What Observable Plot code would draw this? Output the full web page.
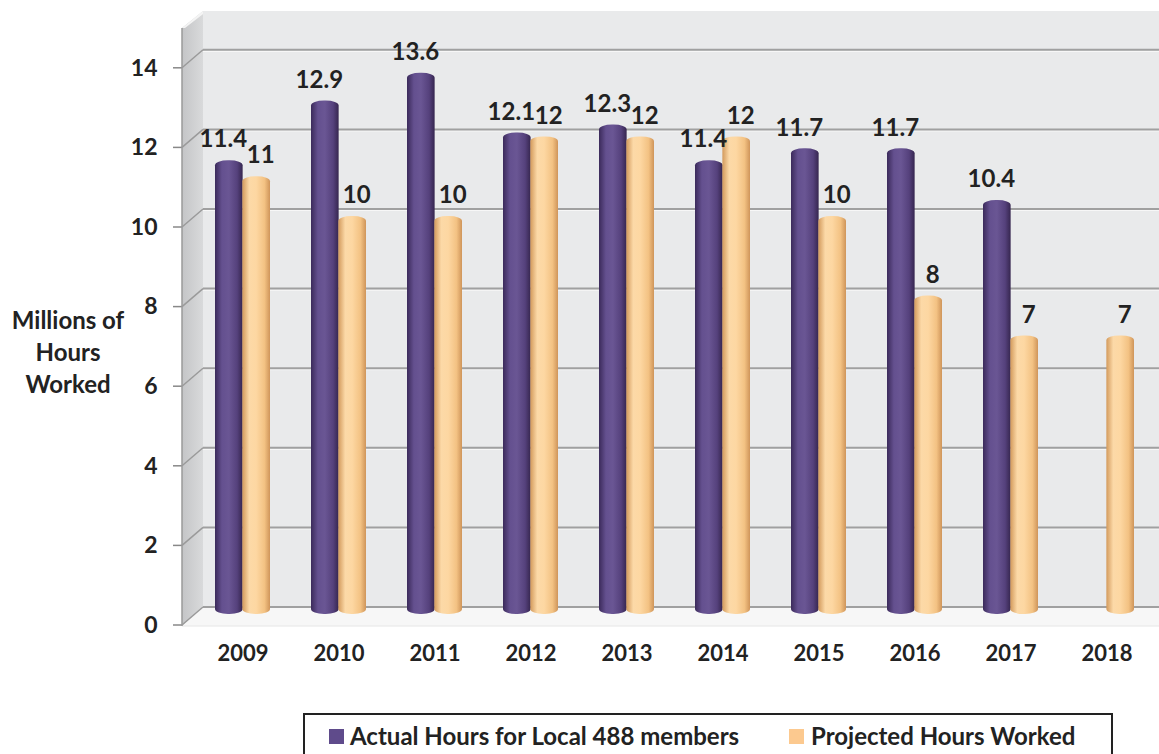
<!DOCTYPE html>
<html><head><meta charset="utf-8">
<script src="https://cdn.jsdelivr.net/npm/d3@7"></script>
<script src="https://cdn.jsdelivr.net/npm/@observablehq/plot@0.6"></script>
<style>
body{margin:0;background:#fff;font-family:Lato,"Open Sans",sans-serif;color:#222;}
#wrap{position:relative;width:1159px;height:754px;overflow:hidden;}
#ytitle{position:absolute;left:0;width:136px;top:304px;text-align:center;font-weight:700;font-size:24px;line-height:32px;color:#222;}
#legend{position:absolute;left:303px;top:713px;width:810px;height:70px;border:2px solid #222;box-sizing:border-box;}
.sw{position:absolute;top:14px;width:15px;height:15px;}
.lt{position:absolute;top:6px;font-weight:700;font-size:24px;line-height:30px;white-space:nowrap;}
</style></head>
<body><div id="wrap"><div id="chart"></div>
<div id="ytitle">Millions of<br>Hours<br>Worked</div>
<div id="legend"></div></div>
<script>
const years = ["2009","2010","2011","2012","2013","2014","2015","2016","2017","2018"];
const actual = [11.4,12.9,13.6,12.1,12.3,11.4,11.7,11.7,10.4,null];
const projected = [11,10,10,12,12,12,10,8,7,7];
const yTicks = [0,2,4,6,8,10,12,14];
const seriesNames = ["Actual Hours for Local 488 members","Projected Hours Worked"];
const seriesColors = ["#5f4b8b","#fcc98f"];

const actualData = years.map((year,i)=>({year, value: actual[i]})).filter(d=>d.value!=null);
const projData = years.map((year,i)=>({year, value: projected[i]})).filter(d=>d.value!=null);

const W = 1159, H = 680;
const halfBand = 96*(1-0.43)/2;

function decor(index, {x, y}, values, dims) {
  const g = d3.create("svg:g");
  const defs = g.append("defs");
  const mk = (id, stops) => {
    const lg = defs.append("linearGradient").attr("id", id).attr("x1",0).attr("x2",1).attr("y1",0).attr("y2",0);
    for (const [o,c] of stops) lg.append("stop").attr("offset",o).attr("stop-color",c);
  };
  mk("gp", [[0,"#3b2a5a"],[0.25,"#64508f"],[0.5,"#6a5694"],[0.8,"#55417c"],[1,"#36264f"]]);
  mk("gt", [[0,"#d39a5c"],[0.25,"#fcd9a7"],[0.5,"#fdd7a2"],[0.8,"#f3c283"],[1,"#cf955a"]]);
  mk("side", [[0,"#c4c5c7"],[1,"#d9dadb"]]);
  const L = 182, B = 203, R = dims.width;
  const back = -7, front = 11;
  const yTop = y(15) - 6;
  const yb = y(0) + back;
  const yf = y(0) + front + 1;
  g.append("polygon").attr("points", `${L},${yTop+17} ${B},${yTop} ${B},${yb} ${L},${yf}`).attr("fill","url(#side)");
  g.append("polygon").attr("points", `${L},${yTop+17} ${B},${yTop} ${B+4},${yTop} ${L+3},${yTop+17}`).attr("fill","#f4f4f4");
  g.append("rect").attr("x",B).attr("y",yTop).attr("width",R-B).attr("height",yb-yTop).attr("fill","#e9eaeb");
  g.append("polygon").attr("points", `${B},${yb} ${R},${yb} ${R},${yf} ${L},${yf}`).attr("fill","#f7f7f7");
  g.append("line").attr("x1",L).attr("x2",R).attr("y1",yf).attr("y2",yf).attr("stroke","#e6e6e6");
  for (const t of yTicks) {
    const yy = y(t);
    g.append("line").attr("x1",B).attr("x2",R).attr("y1",yy+back+1.5).attr("y2",yy+back+1.5).attr("stroke","#f7f7f7").attr("stroke-width",1.2);
    g.append("line").attr("x1",B).attr("x2",R).attr("y1",yy+back).attr("y2",yy+back).attr("stroke","#a0a0a0").attr("stroke-width",2);
    g.append("line").attr("x1",L).attr("x2",B).attr("y1",yy+front).attr("y2",yy+back).attr("stroke","#9a9a9a").attr("stroke-width",1.5);
    g.append("line").attr("x1",L-9).attr("x2",L).attr("y1",yy+front).attr("y2",yy+front).attr("stroke","#888").attr("stroke-width",1.5);
  }
  g.append("line").attr("x1",L).attr("x2",L).attr("y1",yTop+17).attr("y2",yf).attr("stroke","#9a9a9a").attr("stroke-width",1.5);
  return g.node();
}

const plot = Plot.plot({
  width: W, height: H,
  marginLeft: 194, marginRight: 5, marginTop: 17, marginBottom: 66,
  style: {fontFamily: "Lato, 'Open Sans', sans-serif", color: "#222", background: "transparent"},
  x: {domain: years, paddingInner: 0.43, paddingOuter: 0.215, label: null},
  y: {domain: [0, 15], label: null},
  marks: [
    decor,
    Plot.axisY({ticks: yTicks, tickSize: 0, tickPadding: 37, dy: 11, fontSize: 23, fontWeight: "bold", label: null}),
    Plot.axisX({tickSize: 0, tickPadding: 31, fontSize: 22, fontWeight: "bold", label: null}),
    Plot.barY(actualData, {x: "year", y: "value", fill: "url(#gp)", insetRight: halfBand, rx: 13, ry: 5}),
    Plot.barY(projData, {x: "year", y: "value", fill: "url(#gt)", insetLeft: halfBand, rx: 13, ry: 5}),
    Plot.text(actualData, {x: "year", y: "value", text: d => d.value.toFixed(1), dx: -halfBand/2 - 6, dy: -21, fontSize: 24, fontWeight: "bold", fill: "#222"}),
    Plot.text(projData, {x: "year", y: "value", text: d => String(d.value), dx: halfBand/2 + 4, dy: -21, fontSize: 24, fontWeight: "bold", fill: "#222"})
  ]
});
document.getElementById("chart").appendChild(plot);

const leg = document.getElementById("legend");
const pos = [[24,45],[484,506]];
seriesNames.forEach((n,i)=>{
  const s = document.createElement("div"); s.className="sw"; s.style.left=pos[i][0]+"px"; s.style.background=seriesColors[i]; leg.appendChild(s);
  const t = document.createElement("div"); t.className="lt"; t.style.left=pos[i][1]+"px"; t.textContent=n; leg.appendChild(t);
});
</script></body></html>
